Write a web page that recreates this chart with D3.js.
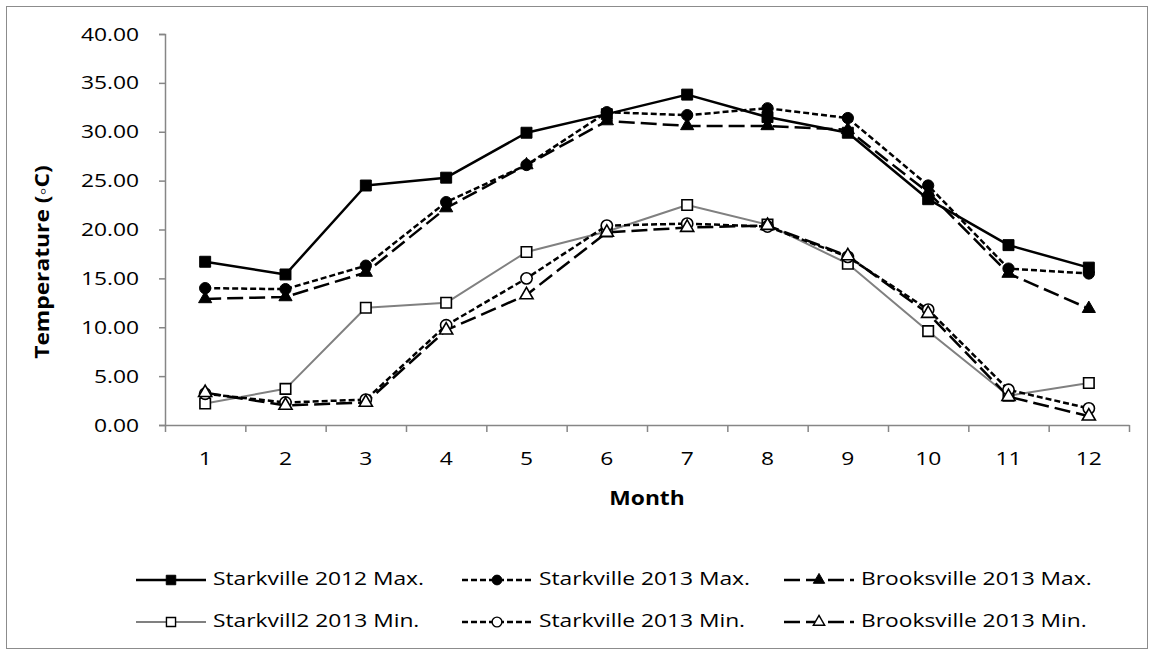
<!DOCTYPE html>
<html>
<head>
<meta charset="utf-8">
<script src="https://cdn.jsdelivr.net/npm/d3@7"></script>
<style>
  html, body { margin: 0; padding: 0; background: #fff; }
  svg { display: block; }
  text { font-family: "Open Sans", "Noto Sans", sans-serif; fill: #000; }
</style>
</head>
<body>
<svg id="chart" width="1154" height="655"></svg>
<script>
// ---- data ----
const months = [1, 2, 3, 4, 5, 6, 7, 8, 9, 10, 11, 12];
const yTicks = [0, 5, 10, 15, 20, 25, 30, 35, 40];
const starkville2012Max = [16.7, 15.4, 24.5, 25.3, 29.9, 31.8, 33.8, 31.5, 29.9, 23.1, 18.4, 16.1];
const starkville2013Max = [14.0, 13.9, 16.3, 22.8, 26.6, 32.0, 31.7, 32.4, 31.4, 24.5, 16.0, 15.5];
const brooksville2013Max = [12.9, 13.1, 15.6, 22.2, 26.6, 31.1, 30.6, 30.6, 30.2, 23.8, 15.5, 11.9];
const starkvill2Min = [2.2, 3.7, 12.0, 12.5, 17.7, 19.8, 22.5, 20.5, 16.5, 9.6, 3.0, 4.3];
const starkville2013Min = [3.2, 2.3, 2.6, 10.2, 15.0, 20.4, 20.6, 20.3, 17.2, 11.8, 3.6, 1.7];
const brooksville2013Min = [3.3, 2.0, 2.3, 9.7, 13.3, 19.7, 20.2, 20.4, 17.3, 11.4, 2.9, 0.9];
const seriesNames = ["Starkville 2012 Max.", "Starkville 2013 Max.", "Brooksville 2013 Max.",
                     "Starkvill2 2013 Min.", "Starkville 2013 Min.", "Brooksville 2013 Min."];

(function () {
// ---- styles ----
const SX = 1.2; // horizontal text stretch
const series = [
  { name: seriesNames[0], values: starkville2012Max, color: "#000", width: 2.5, dash: null, symbol: d3.symbolSquare, size: 120, fill: "#000" },
  { name: seriesNames[1], values: starkville2013Max, color: "#000", width: 2.5, dash: "6,3", symbol: d3.symbolCircle, size: 100, fill: "#000" },
  { name: seriesNames[2], values: brooksville2013Max, color: "#000", width: 2.5, dash: "16,6", symbol: d3.symbolTriangle, size: 75, fill: "#000" },
  { name: seriesNames[3], values: starkvill2Min, color: "#808080", width: 2, dash: null, symbol: d3.symbolSquare, size: 110, fill: "#fff" },
  { name: seriesNames[4], values: starkville2013Min, color: "#000", width: 2.5, dash: "6,3", symbol: d3.symbolCircle, size: 100, fill: "#fff" },
  { name: seriesNames[5], values: brooksville2013Min, color: "#000", width: 2.5, dash: "16,6", symbol: d3.symbolTriangle, size: 75, fill: "#fff" }
];

const svg = d3.select("#chart");
const pLeft = 165, pRight = 1129, pTop = 34, pBottom = 425;
const axisColor = "#868686";

// chart border
svg.append("rect").attr("x", 6.5).attr("y", 6.5).attr("width", 1141).attr("height", 642)
  .attr("fill", "#fff").attr("stroke", "#8c8c8c").attr("stroke-width", 1);

const x = d3.scaleBand().domain(months).range([pLeft, pRight]).padding(0);
const xEdge = d3.scaleLinear().domain([0, months.length]).range([pLeft, pRight]);
const y = d3.scaleLinear().domain([0, 40]).range([pBottom, pTop]);
const cx = m => x(m) + x.bandwidth() / 2;

function stretchText(sel) {
  sel.each(function () {
    const t = d3.select(this);
    const xv = +t.attr("x") || 0;
    t.attr("x", xv / SX).attr("transform", `scale(${SX},1)`);
  });
}

// y axis
const gy = svg.append("g").attr("transform", `translate(${pLeft},0)`)
  .call(d3.axisLeft(y).tickValues(yTicks).tickFormat(d3.format(".2f")).tickSize(6).tickPadding(20));
gy.select(".domain").attr("stroke", axisColor).attr("stroke-width", 1.5);
gy.selectAll(".tick line").attr("stroke", axisColor).attr("stroke-width", 1.5);
gy.selectAll(".tick text").attr("font-size", 19).attr("font-family", "Open Sans").attr("fill", "#000").call(stretchText);

// x axis: tick marks at category edges
const gxe = svg.append("g").attr("transform", `translate(0,${pBottom})`)
  .call(d3.axisBottom(xEdge).tickValues(d3.range(0, months.length + 1)).tickFormat("").tickSize(7).tickSizeOuter(0));
gxe.select(".domain").attr("stroke", axisColor).attr("stroke-width", 1.5);
gxe.selectAll(".tick line").attr("stroke", axisColor).attr("stroke-width", 1.5);
// x axis labels at category centres
const gx = svg.append("g").attr("transform", `translate(0,${pBottom})`)
  .call(d3.axisBottom(x).tickSize(0).tickPadding(27));
gx.select(".domain").remove();
gx.selectAll(".tick text").attr("font-size", 19).attr("font-family", "Open Sans").attr("fill", "#000").call(stretchText);

// axis titles
svg.append("text").attr("transform", `translate(44,262) rotate(-90) scale(${SX},1)`)
  .attr("text-anchor", "middle").attr("dominant-baseline", "middle")
  .attr("font-size", 19).attr("font-weight", "bold").text("Temperature (\u25E6C)");
svg.append("text").attr("transform", `translate(647,500) scale(${SX},1)`)
  .attr("text-anchor", "middle").attr("dominant-baseline", "middle")
  .attr("font-size", 19).attr("font-weight", "bold").text("Month");

// lines and markers
const line = d3.line().x((d, i) => cx(months[i])).y(d => y(d));
series.forEach(s => {
  svg.append("path").datum(s.values).attr("d", line)
    .attr("fill", "none").attr("stroke", s.color).attr("stroke-width", s.width)
    .attr("stroke-dasharray", s.dash).attr("stroke-linejoin", "round");
});
series.forEach(s => {
  svg.append("g").selectAll("path").data(s.values).join("path")
    .attr("transform", (d, i) => `translate(${cx(months[i])},${y(d)})`)
    .attr("d", d3.symbol().type(s.symbol).size(s.size))
    .attr("fill", s.fill).attr("stroke", "#000").attr("stroke-width", s.fill === "#fff" ? 1.6 : 1);
});

// legend
const legCols = [136, 462, 784];
const legRows = [580, 622];
series.forEach((s, i) => {
  const lx = legCols[i % 3], ly = legRows[Math.floor(i / 3)];
  const g = svg.append("g");
  g.append("line").attr("x1", lx).attr("x2", lx + 70).attr("y1", ly).attr("y2", ly)
    .attr("stroke", s.color).attr("stroke-width", s.width).attr("stroke-dasharray", s.dash);
  g.append("path").attr("transform", `translate(${lx + 35},${ly})`)
    .attr("d", d3.symbol().type(s.symbol).size(s.size * 0.75))
    .attr("fill", s.fill).attr("stroke", "#000").attr("stroke-width", s.fill === "#fff" ? 1.4 : 1);
  g.append("text").attr("transform", `translate(${lx + 77},${ly}) scale(${SX},1)`)
    .attr("dominant-baseline", "middle").attr("font-size", 19).text(s.name);
});
})();
</script>
</body>
</html>
